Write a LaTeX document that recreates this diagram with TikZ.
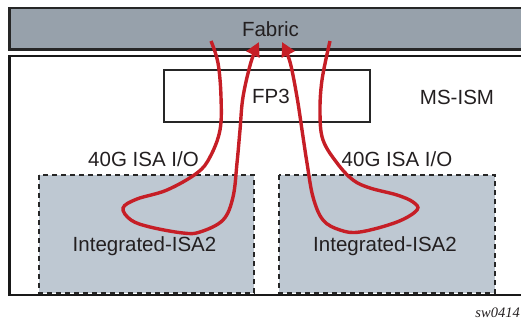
\documentclass[tikz,border=0pt]{standalone}
\usepackage{fontspec}
\setmainfont{Liberation Sans}
\newfontfamily\serifit{Liberation Serif}
\usetikzlibrary{arrows.meta}
\definecolor{fabricgray}{RGB}{151,161,171}
\definecolor{isagray}{RGB}{190,200,210}
\definecolor{flowred}{RGB}{198,30,38}
\definecolor{txt}{RGB}{35,31,32}
\tikzset{
  lbl/.style={font=\fontsize{20.5}{24}\selectfont, text=txt, inner sep=0pt},
  isabox/.style={draw=black!85, fill=isagray, line width=2pt, dash pattern=on 5pt off 4pt},
  flow/.style={draw=flowred, line width=3.4pt},
  flowarrow/.style={flow, -{Triangle[length=14pt,width=14pt]}}
}
\begin{document}
\begin{tikzpicture}[x=1pt,y=-1pt]
\useasboundingbox (0,0) rectangle (521,322);
\begin{scope}
\clip (0,0) rectangle (521,322);
% Fabric bar
\draw[fill=fabricgray, draw=black!85, line width=2.5pt] (9.5,8) rectangle (540,49.5);
% outer MS-ISM box
\draw[draw=black!90, line width=2.5pt] (9.5,56) rectangle (540,295);
\end{scope}
\node[anchor=east, font=\serifit\itshape\fontsize{14.5}{17}\selectfont, text=txt, inner sep=0pt] (sw) at (520,313) {sw0414};
\node[lbl] (fabric) at (270.5,29.5) {Fabric};
% FP3
\draw[draw=black!85, line width=1.5pt] (164,70) rectangle (370,122);
\node[lbl] (fp3) at (271,96) {FP3};
\node[lbl] (msism) at (457,97) {MS-ISM};
% ISA boxes
\draw[isabox] (39,175) rectangle (254,293);
\draw[isabox] (279,175) rectangle (495,293);
\node[lbl] (io1) at (143.5,159) {40G ISA I/O};
\node[lbl] (io2) at (397,159) {40G ISA I/O};
\node[lbl] (isa1) at (144.5,246) {Integrated-ISA2};
\node[lbl] (isa2) at (385,246) {Integrated-ISA2};
% flows
\draw[flowarrow] plot[smooth, tension=0.6] coordinates {(211,41) (218,63) (221,97) (220,130) (210,157) (197,173) (167,190) (137,199) (123,208) (131,220) (150,227) (183,233) (200,232) (223,220) (233,197) (237,163) (240,130) (243,97) (251,62) (259,42)};
\draw[flowarrow] plot[smooth, tension=0.6] coordinates {(330,41) (322,80) (320,113) (323,140) (337,163) (353,180) (370,188) (397,195) (413,202) (417,210) (397,222) (360,232) (340,230) (323,220) (313,197) (307,163) (302,130) (297,97) (290,62) (282,42)};
\end{tikzpicture}
\end{document}
